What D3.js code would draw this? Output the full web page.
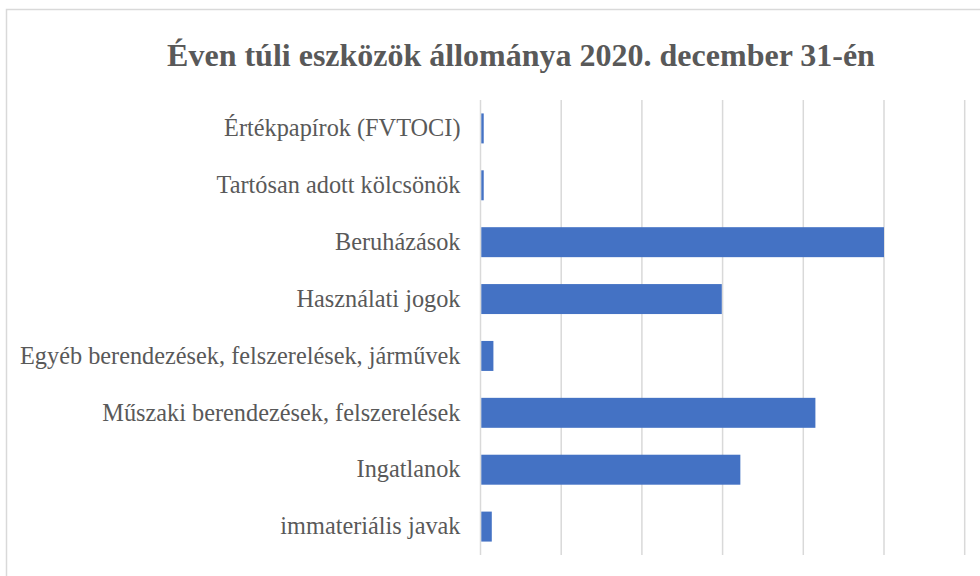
<!doctype html>
<html>
<head>
<script src="https://d3js.org/d3.v7.min.js"></script>
<style>
  body { margin: 0; background: #fff; }
  svg { display: block; }
</style>
</head>
<body>
<svg width="980" height="576"></svg>
<script>
// categories top to bottom, values (1 unit = 1 gridline)
var categories = [
  "Értékpapírok (FVTOCI)",
  "Tartósan adott kölcsönök",
  "Beruházások",
  "Használati jogok",
  "Egyéb berendezések, felszerelések, járművek",
  "Műszaki berendezések, felszerelések",
  "Ingatlanok",
  "immateriális javak"
];
var values = [0.03, 0.03, 4.99, 2.98, 0.15, 4.14, 3.21, 0.13];
var gridTicks = [0, 1, 2, 3, 4, 5, 6];
var title = "Éven túli eszközök állománya 2020. december 31-én";

var svg = d3.select("svg");

// chart area border
svg.append("rect")
  .attr("x", 6.5).attr("y", 9.5)
  .attr("width", 990).attr("height", 600)
  .attr("fill", "#fff")
  .attr("stroke", "#d9d9d9")
  .attr("stroke-width", 1.5);

var x = d3.scaleLinear().domain([0, 6]).range([480.5, 964.7]);
var y = d3.scaleBand().domain(categories).range([100, 555]).paddingInner(0.473).paddingOuter(0.236);

svg.append("text")
  .attr("x", 521).attr("y", 66)
  .attr("text-anchor", "middle")
  .attr("font-family", "'Liberation Serif', 'Times New Roman', serif")
  .attr("font-weight", "bold")
  .attr("font-size", 32)
  .attr("fill", "#595959")
  .text(title);

// vertical gridlines
svg.append("g")
  .selectAll("line")
  .data(gridTicks)
  .join("line")
  .attr("x1", function(d) { return x(d); })
  .attr("x2", function(d) { return x(d); })
  .attr("y1", 100).attr("y2", 555)
  .attr("stroke", "#d9d9d9")
  .attr("stroke-width", 1.5);

svg.append("g")
  .selectAll("rect")
  .data(values)
  .join("rect")
  .attr("x", x(0) + 0.8)
  .attr("y", function(d, i) { return y(categories[i]); })
  .attr("width", function(d) { return x(d) - x(0); })
  .attr("height", y.bandwidth())
  .attr("fill", "#4472c4");

// category labels
var yAxis = svg.append("g")
  .attr("transform", "translate(" + x(0) + ",0)")
  .call(d3.axisLeft(y).tickSize(0).tickPadding(20));
yAxis.select(".domain").remove();
yAxis.selectAll("text")
  .attr("font-family", "'Liberation Serif', 'Times New Roman', serif")
  .attr("font-size", 24.3)
  .attr("fill", "#595959");
</script>
</body>
</html>
